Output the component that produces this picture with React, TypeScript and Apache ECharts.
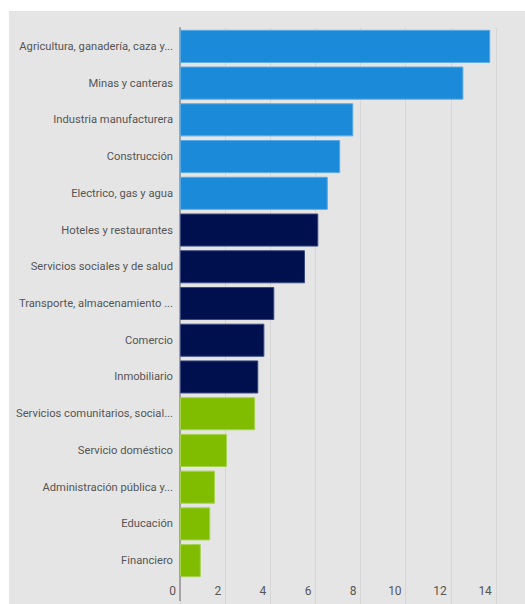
import React, { useEffect, useRef } from "react";
import * as echarts from "echarts";

const categories = [
  "Agricultura, ganadería, caza y...",
  "Minas y canteras",
  "Industria manufacturera",
  "Construcción",
  "Electrico, gas y agua",
  "Hoteles y restaurantes",
  "Servicios sociales y de salud",
  "Transporte, almacenamiento ...",
  "Comercio",
  "Inmobiliario",
  "Servicios comunitarios, social...",
  "Servicio doméstico",
  "Administración pública y...",
  "Educación",
  "Financiero",
];
const values = [13.75, 12.56, 7.68, 7.1, 6.55, 6.13, 5.54, 4.18, 3.74, 3.47, 3.33, 2.08, 1.55, 1.34, 0.92];
const groups = [0, 0, 0, 0, 0, 1, 1, 1, 1, 1, 2, 2, 2, 2, 2];
const groupColors = ["#1b8ad8", "#00104f", "#80bd00"];
const groupBorders = ["#5aaae4", "#3a4a80", "#a6d24d"];
const xTicks = [0, 2, 4, 6, 8, 10, 12, 14];

const FONT = "Roboto, sans-serif";

export default function App() {
  const ref = useRef<HTMLDivElement>(null);
  useEffect(() => {
    if (!ref.current) return;
    const chart = echarts.init(ref.current, undefined, { renderer: "svg" });
    const option: any = {
      animation: false,
      backgroundColor: "#ffffff",
      graphic: [
        {
          type: "rect",
          z: -10,
          shape: { x: 9, y: 11, width: 516, height: 593 },
          style: { fill: "#e5e5e5" },
          silent: true,
        },
      ],
      grid: { left: 180, top: 28, bottom: 25, right: -16, outerBoundsMode: "none", containLabel: false },
      xAxis: {
        type: "value",
        min: 0,
        max: 16,
        interval: 2,
        axisLine: { show: false },
        axisTick: { show: true, length: 25, lineStyle: { color: "#d6d6d6", width: 1 } },
        splitLine: { show: true, lineStyle: { color: "#d6d6d6", width: 1 } },
        axisLabel: {
          showMaxLabel: false,
          color: "#555555",
          fontFamily: FONT,
          fontSize: 12,
          align: "right",
          padding: [0, 4, 0, 0],
          margin: 6,
          formatter: (v: number) => (xTicks.indexOf(v) >= 0 ? String(v) : ""),
        },
      },
      yAxis: {
        type: "category",
        inverse: true,
        data: categories,
        axisLine: { show: true, lineStyle: { color: "#a3a3a3", width: 2 } },
        axisTick: { show: false },
        axisLabel: { color: "#555555", fontFamily: FONT, fontSize: 11.2, margin: 7 },
      },
      series: [
        {
          type: "bar",
          barCategoryGap: "10%",
          data: values.map((v, i) => ({
            value: v,
            itemStyle: {
              color: groupColors[groups[i]],
              borderColor: groupBorders[groups[i]],
              borderWidth: 1,
            },
          })),
        },
      ],
    };
    chart.setOption(option);
    const x0 = chart.convertToPixel({ xAxisIndex: 0 }, 0) as number;
    const yBottom = chart.convertToPixel({ yAxisIndex: 0 }, categories[categories.length - 1]) as number;
    chart.setOption({
      graphic: [
        option.graphic[0],
        {
          type: "line",
          z: 10,
          silent: true,
          shape: { x1: x0, y1: yBottom + 15, x2: x0, y2: 601 },
          style: { stroke: "#a3a3a3", lineWidth: 2 },
        },
      ],
    });
    return () => chart.dispose();
  }, []);
  return (
    <div
      ref={ref}
      style={{ position: "fixed", left: 0, top: 0, width: 525, height: 604 }}
    />
  );
}
